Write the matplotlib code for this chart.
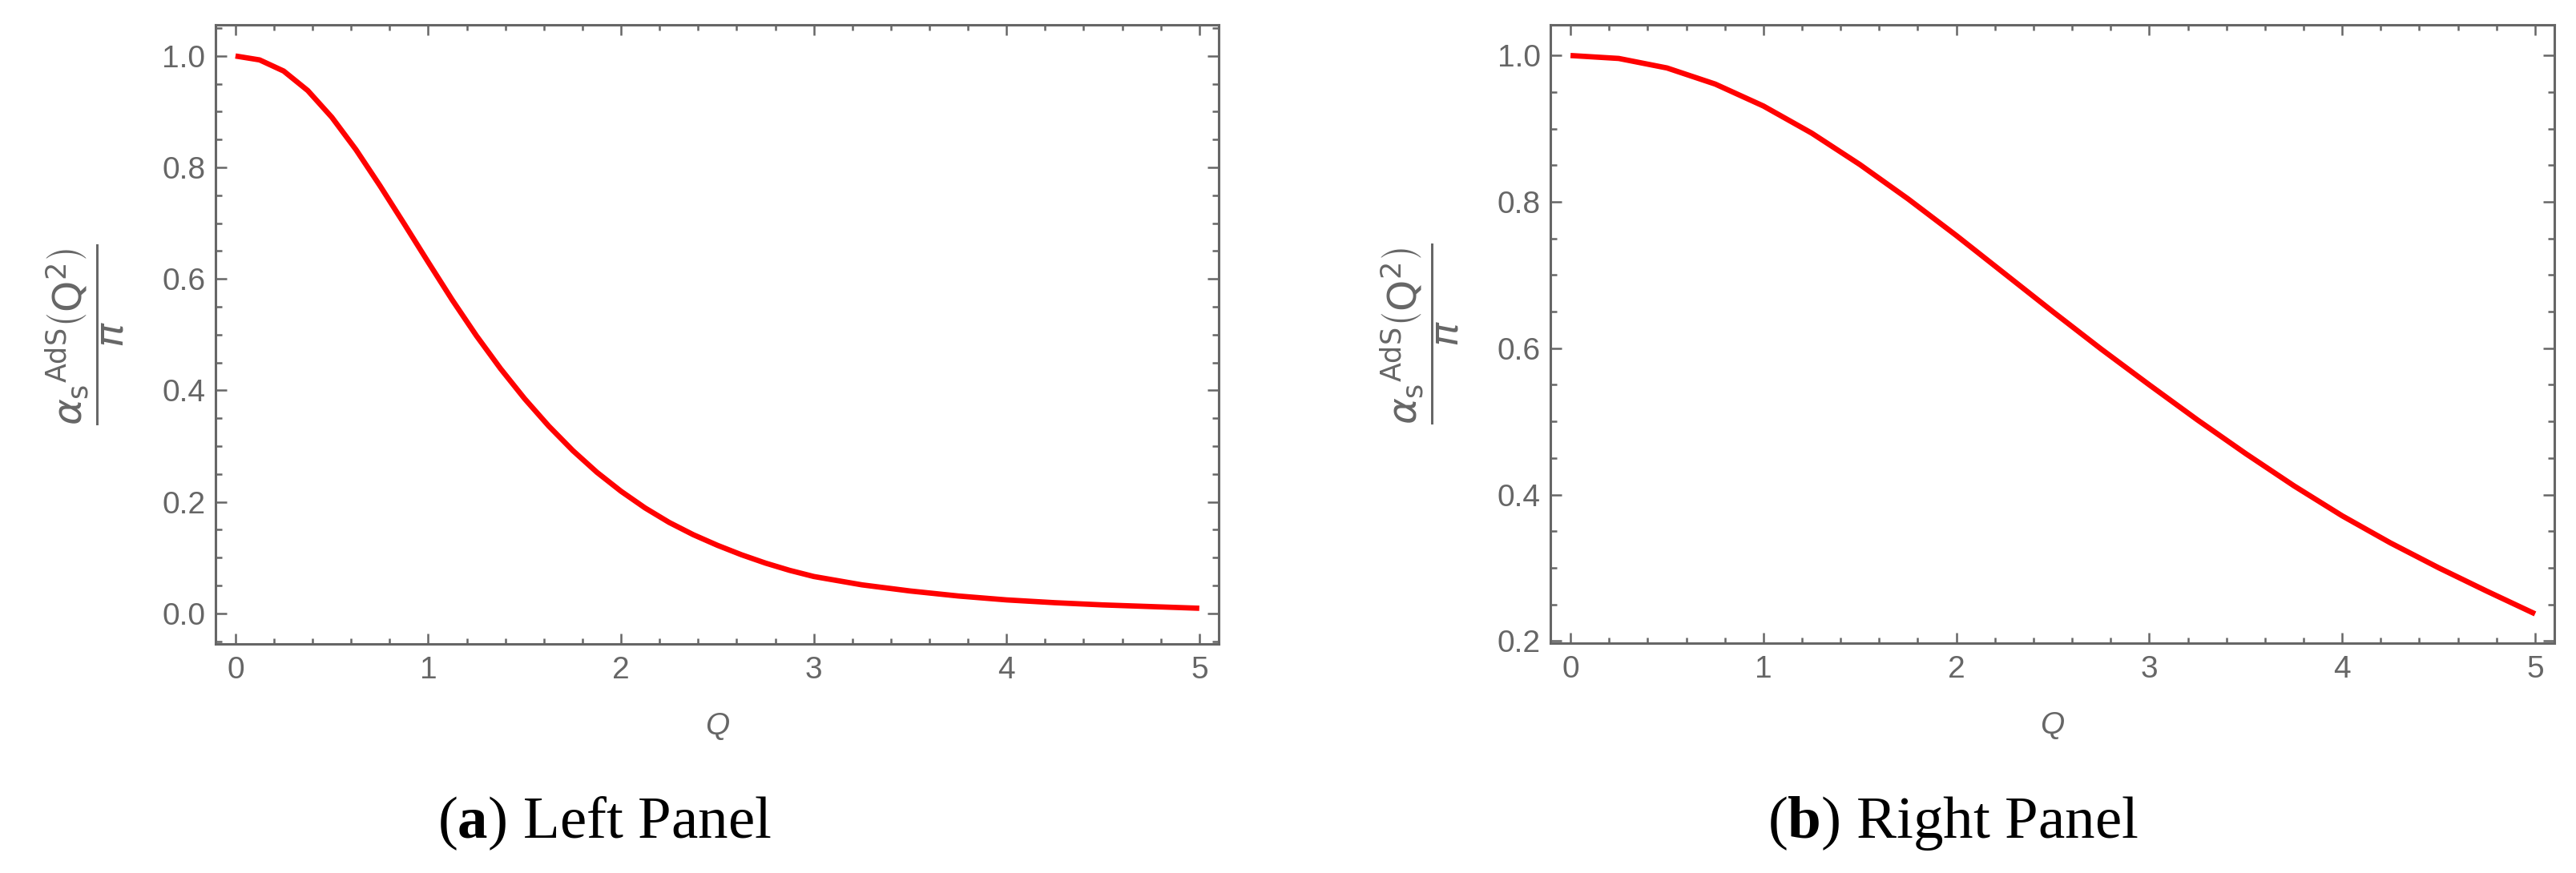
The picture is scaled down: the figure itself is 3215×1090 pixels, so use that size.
import matplotlib
matplotlib.use("Agg")
import matplotlib.pyplot as plt
from matplotlib.ticker import MultipleLocator

# values
left_q = [0, 0.125, 0.25, 0.375, 0.5, 0.625, 0.75, 0.875, 1.0, 1.125, 1.25, 1.375,
          1.5, 1.625, 1.75, 1.875, 2.0, 2.125, 2.25, 2.375, 2.5, 2.625, 2.75, 2.875,
          3.0, 3.25, 3.5, 3.75, 4.0, 4.25, 4.5, 4.75, 5.0]
left_alpha = [1.000, 0.993, 0.973, 0.938, 0.890, 0.832, 0.767, 0.699, 0.630, 0.562,
              0.498, 0.439, 0.385, 0.336, 0.292, 0.253, 0.219, 0.189, 0.163, 0.141,
              0.122, 0.105, 0.090, 0.077, 0.066, 0.051, 0.040, 0.031, 0.024, 0.019,
              0.015, 0.012, 0.009]

right_q = [0, 0.25, 0.5, 0.75, 1.0, 1.25, 1.5, 1.75, 2.0, 2.25, 2.5, 2.75, 3.0,
           3.25, 3.5, 3.75, 4.0, 4.25, 4.5, 4.75, 5.0]
right_alpha = [1.000, 0.996, 0.983, 0.961, 0.931, 0.894, 0.851, 0.804, 0.754, 0.702,
               0.650, 0.599, 0.550, 0.502, 0.456, 0.412, 0.371, 0.334, 0.300, 0.268,
               0.237]

captions = [r"$(\mathbf{a})$ Left Panel", r"$(\mathbf{b})$ Right Panel"]
x_label = "Q"
y_label = r"$\dfrac{\alpha_{\mathrm{s}}{}^{\mathrm{AdS}}\left(\mathrm{Q}^{2}\right)}{\pi}$"

GRAY = "#666666"
RED = "#ff0000"

plt.rcParams["mathtext.fontset"] = "custom"
plt.rcParams["mathtext.rm"] = "Liberation Serif"
plt.rcParams["mathtext.bf"] = "Liberation Serif:bold"
plt.rcParams["mathtext.it"] = "Liberation Serif:italic"


def style_frame(ax, ylim, ymajor_start):
    ax.set_xlim(-0.104, 5.1)
    ax.set_ylim(*ylim)
    for sp in ax.spines.values():
        sp.set_color(GRAY)
        sp.set_linewidth(1.1)
    ax.xaxis.set_major_locator(MultipleLocator(1))
    ax.xaxis.set_minor_locator(MultipleLocator(0.2))
    ax.yaxis.set_major_locator(MultipleLocator(0.2))
    ax.yaxis.set_minor_locator(MultipleLocator(0.05))
    ax.tick_params(which="both", direction="in", top=True, right=True,
                   color=GRAY, width=0.9, labelcolor=GRAY)
    ax.tick_params(axis="x", which="major", length=4.8, pad=5.5, labelsize=14)
    ax.tick_params(axis="x", which="minor", length=2.6)
    ax.tick_params(axis="y", which="major", length=5.2, pad=4.5, labelsize=14)
    ax.tick_params(axis="y", which="minor", length=3.0)
    ax.set_yticks([v / 10 for v in range(ymajor_start, 11, 2)])
    ax.yaxis.set_major_formatter(plt.FuncFormatter(lambda v, p: f"{v:.1f}"))
    for lab in ax.get_xticklabels() + ax.get_yticklabels():
        lab.set_fontfamily("Liberation Sans")
    ax.set_xlabel(x_label, fontsize=14, color=GRAY, fontstyle="italic",
                  fontfamily="Liberation Sans", labelpad=12)
    ax.set_ylabel(y_label, fontsize=18, color=GRAY, va="center",
                  math_fontfamily="dejavusans")
    ax.yaxis.set_label_coords(-0.13, 0.5)


fig = plt.figure(figsize=(16.08, 5.45), dpi=200)
ax_l = fig.add_axes([0.0836, 0.2624, 0.3893, 0.7092])
ax_r = fig.add_axes([0.6017, 0.2633, 0.3896, 0.7083])

ax_l.plot(left_q, left_alpha, color=RED, lw=2.4, solid_capstyle="butt")
style_frame(ax_l, (-0.055, 1.056), 0)

ax_r.plot(right_q, right_alpha, color=RED, lw=2.4, solid_capstyle="butt")
style_frame(ax_r, (0.197, 1.042), 2)

for xc, cap in zip([0.2345, 0.758], captions):
    fig.text(xc, 0.0404, cap, ha="center", va="baseline", fontsize=27,
             fontfamily="Liberation Serif", color="black", math_fontfamily="custom")

fig.savefig("out.png", dpi=200)
